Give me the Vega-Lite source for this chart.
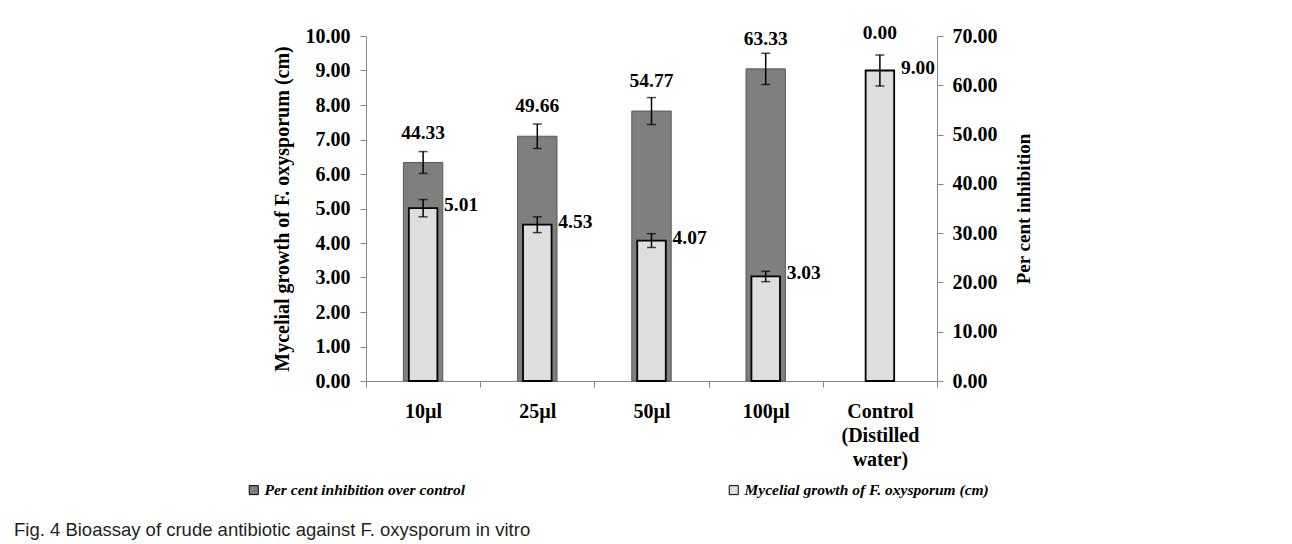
{
  "$schema": "https://vega.github.io/schema/vega-lite/v6.json",
  "width": 571,
  "height": 345,
  "autosize": {"type": "none"},
  "padding": {"left": 366, "top": 36, "right": 355, "bottom": 163},
  "background": "white",
  "title": {
    "text": "Fig. 4 Bioassay of crude antibiotic against F. oxysporum in vitro",
    "orient": "bottom",
    "anchor": "start",
    "frame": "group",
    "dx": -352,
    "offset": 22,
    "font": "Liberation Sans Narrow, Liberation Sans, sans-serif",
    "fontSize": 18.5,
    "fontWeight": "normal",
    "color": "#231f20"
  },
  "data": {
    "values": [
      {"treatment": "10µl", "pct": 44.33, "pct_lo": 42.12, "pct_hi": 46.55, "myc": 5.01, "myc_lo": 4.76, "myc_hi": 5.26},
      {"treatment": "25µl", "pct": 49.66, "pct_lo": 47.18, "pct_hi": 52.14, "myc": 4.53, "myc_lo": 4.3, "myc_hi": 4.76},
      {"treatment": "50µl", "pct": 54.77, "pct_lo": 52.03, "pct_hi": 57.51, "myc": 4.07, "myc_lo": 3.87, "myc_hi": 4.27},
      {"treatment": "100µl", "pct": 63.33, "pct_lo": 60.16, "pct_hi": 66.5, "myc": 3.03, "myc_lo": 2.88, "myc_hi": 3.18},
      {"treatment": "Control (Distilled water)", "pct": 0.0, "pct_lo": 0.0, "pct_hi": 0.0, "myc": 9.0, "myc_lo": 8.55, "myc_hi": 9.45}
    ]
  },
  "encoding": {
    "x": {
      "field": "treatment",
      "type": "nominal",
      "sort": null,
      "scale": {"paddingInner": 0, "paddingOuter": 0},
      "axis": {
        "title": null,
        "labelAngle": 0,
        "tickBand": "extent",
        "tickSize": 6,
        "labelPadding": 14,
        "labelLineHeight": 24,
        "labelBaseline": "top",
        "labelExpr": "datum.value == 'Control (Distilled water)' ? ['Control', '(Distilled', 'water)'] : datum.value"
      }
    }
  },
  "layer": [
    {
      "layer": [
        {
          "transform": [{"filter": "datum.pct > 0"}],
          "mark": {"type": "bar", "width": {"band": 0.345}, "stroke": "#595959", "strokeWidth": 1},
          "encoding": {
            "y": {
              "field": "pct",
              "type": "quantitative",
              "title": "Per cent inhibition",
              "scale": {"domain": [0, 70], "nice": false, "zero": true},
              "axis": {"orient": "right", "values": [0, 10, 20, 30, 40, 50, 60, 70], "format": ".2f", "titleAngle": 270, "titleBaseline": "top", "titlePadding": 17, "tickSize": 6, "labelPadding": 9, "labelOverlap": false}
            },
            "color": {
              "datum": "Per cent inhibition over control",
              "type": "nominal",
              "scale": {
                "domain": ["Per cent inhibition over control", "Mycelial growth of F. oxysporum (cm)"],
                "range": ["#7f7f7f", "#dedede"]
              },
              "legend": {
                "title": null,
                "orient": "none",
                "direction": "horizontal",
                "legendX": -120,
                "legendY": 446,
                "symbolType": "square",
                "symbolSize": 81,
                "symbolStrokeColor": "#404040",
                "symbolStrokeWidth": 1,
                "labelFont": "Liberation Serif",
                "labelFontStyle": "italic",
                "labelFontWeight": "bold",
                "labelFontSize": 15.5,
                "labelColor": "black",
                "labelOffset": 3,
                "columnPadding": 260,
                "labelLimit": 400
              }
            }
          }
        },
        {
          "transform": [{"filter": "datum.pct > 0"}],
          "mark": {"type": "errorbar", "color": "black", "thickness": 1.5, "ticks": {"size": 9, "thickness": 1.5, "color": "black"}},
          "encoding": {
            "y": {
              "field": "pct_lo",
              "type": "quantitative",
              "title": "Per cent inhibition",
              "axis": {"orient": "right", "values": [0, 10, 20, 30, 40, 50, 60, 70], "format": ".2f", "titleAngle": 270, "titleBaseline": "top", "titlePadding": 17, "tickSize": 6, "labelPadding": 9, "labelOverlap": false}
            },
            "y2": {"field": "pct_hi"}
          }
        },
        {
          "transform": [{"filter": "datum.pct > 0"}],
          "mark": {"type": "text", "font": "Liberation Serif", "fontWeight": "bold", "fontSize": 19.5, "baseline": "middle", "align": "center", "dy": -30, "color": "black"},
          "encoding": {
            "y": {
              "field": "pct",
              "type": "quantitative",
              "title": "Per cent inhibition",
              "axis": {"orient": "right", "values": [0, 10, 20, 30, 40, 50, 60, 70], "format": ".2f", "titleAngle": 270, "titleBaseline": "top", "titlePadding": 17, "tickSize": 6, "labelPadding": 9, "labelOverlap": false}
            },
            "text": {"field": "pct", "type": "quantitative", "format": ".2f"}
          }
        }
      ]
    },
    {
      "layer": [
        {
          "mark": {"type": "bar", "width": {"band": 0.25}, "stroke": "black", "strokeWidth": 1.8},
          "encoding": {
            "y": {
              "field": "myc",
              "type": "quantitative",
              "title": "Mycelial growth of F. oxysporum (cm)",
              "scale": {"domain": [0, 10], "nice": false, "zero": true},
              "axis": {"orient": "left", "values": [0, 1, 2, 3, 4, 5, 6, 7, 8, 9, 10], "format": ".2f", "titlePadding": 13, "titleFontSize": 20, "tickSize": 6, "labelPadding": 10, "labelOverlap": false}
            },
            "color": {
              "datum": "Mycelial growth of F. oxysporum (cm)",
              "type": "nominal"
            }
          }
        },
        {
          "mark": {"type": "errorbar", "color": "black", "thickness": 1.5, "ticks": {"size": 9, "thickness": 1.5, "color": "black"}},
          "encoding": {
            "y": {
              "field": "myc_lo",
              "type": "quantitative",
              "title": "Mycelial growth of F. oxysporum (cm)",
              "axis": {"orient": "left", "values": [0, 1, 2, 3, 4, 5, 6, 7, 8, 9, 10], "format": ".2f", "titlePadding": 13, "titleFontSize": 20, "tickSize": 6, "labelPadding": 10, "labelOverlap": false}
            },
            "y2": {"field": "myc_hi"}
          }
        },
        {
          "mark": {"type": "text", "font": "Liberation Serif", "fontWeight": "bold", "fontSize": 19.5, "baseline": "middle", "align": "left", "dx": 21, "dy": -3, "color": "black"},
          "encoding": {
            "y": {
              "field": "myc",
              "type": "quantitative",
              "title": "Mycelial growth of F. oxysporum (cm)",
              "axis": {"orient": "left", "values": [0, 1, 2, 3, 4, 5, 6, 7, 8, 9, 10], "format": ".2f", "titlePadding": 13, "titleFontSize": 20, "tickSize": 6, "labelPadding": 10, "labelOverlap": false}
            },
            "text": {"field": "myc", "type": "quantitative", "format": ".2f"}
          }
        },
        {
          "transform": [{"filter": "datum.pct == 0"}],
          "mark": {"type": "text", "font": "Liberation Serif", "fontWeight": "bold", "fontSize": 19.5, "baseline": "middle", "align": "center", "dy": -22, "color": "black"},
          "encoding": {
            "y": {
              "field": "myc_hi",
              "type": "quantitative",
              "title": "Mycelial growth of F. oxysporum (cm)",
              "axis": {"orient": "left", "values": [0, 1, 2, 3, 4, 5, 6, 7, 8, 9, 10], "format": ".2f", "titlePadding": 13, "titleFontSize": 20, "tickSize": 6, "labelPadding": 10, "labelOverlap": false}
            },
            "text": {"field": "pct", "type": "quantitative", "format": ".2f"}
          }
        }
      ]
    }
  ],
  "resolve": {"scale": {"y": "independent"}},
  "config": {
    "view": {"stroke": null},
    "axis": {
      "grid": false,
      "domainColor": "#868686",
      "tickColor": "#868686",
      "labelFont": "Liberation Serif",
      "labelFontWeight": "bold",
      "labelFontSize": 20,
      "labelColor": "black",
      "titleFont": "Liberation Serif",
      "titleFontWeight": "bold",
      "titleFontSize": 19,
      "titleColor": "black"
    }
  }
}
